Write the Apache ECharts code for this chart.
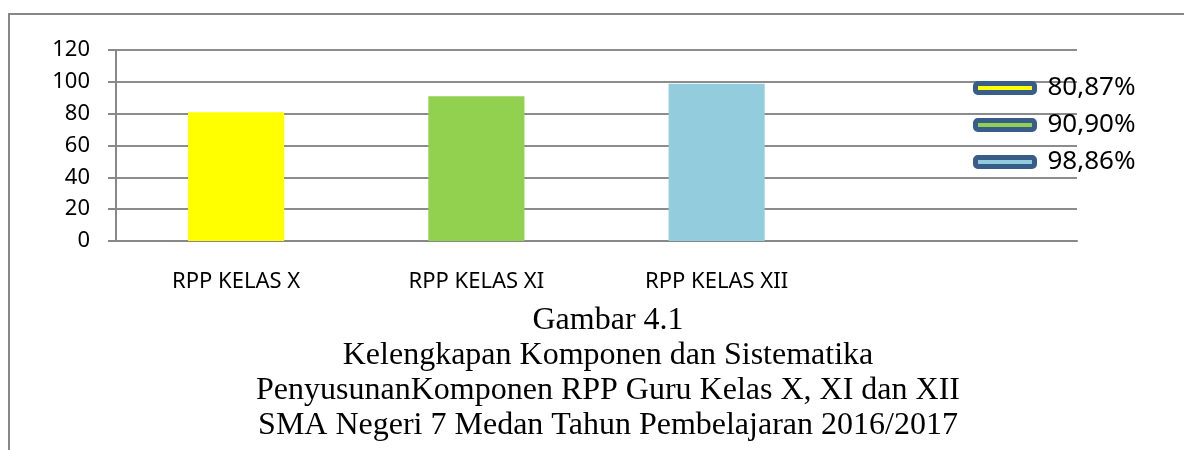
<!DOCTYPE html>
<html>
<head>
<meta charset="utf-8">
<title>Gambar 4.1</title>
<script src="https://cdn.jsdelivr.net/npm/echarts@6/dist/echarts.min.js"></script>
<style>
  html, body { margin: 0; padding: 0; background: #fff; }
  #chart { width: 1184px; height: 450px; }
</style>
</head>
<body>
<div id="chart"></div>
<script>
// data
var categories = ['RPP KELAS X', 'RPP KELAS XI', 'RPP KELAS XII', ''];
var legendNames = ['80,87%', '90,90%', '98,86%'];
var values = [80.87, 90.90, 98.86];
var barColors = ['#ffff00', '#92d050', '#93cddd'];
var yMin = 0, yMax = 120, yStep = 20;

var captionLines = [
  'Gambar 4.1',
  'Kelengkapan Komponen dan Sistematika',
  'PenyusunanKomponen RPP Guru Kelas X, XI dan XII',
  'SMA Negeri 7 Medan Tahun Pembelajaran 2016/2017'
];

var chart = echarts.init(document.getElementById('chart'));

var series = values.map(function (v, i) {
  return {
    name: legendNames[i],
    type: 'bar',
    stack: 'all',
    barWidth: '40%',
    itemStyle: { color: barColors[i] },
    data: categories.map(function (c, j) { return j === i ? v : '-'; })
  };
});

var option = {
  animation: false,
  backgroundColor: '#fff',
  title: {
    text: captionLines.join('\n'),
    left: 603, top: 298, textAlign: 'center',
    textStyle: { fontFamily: 'Liberation Serif', fontSize: 32, fontWeight: 'normal', color: '#000', lineHeight: 35 }
  },
  legend: {
    orient: 'vertical',
    left: 968, top: 70,
    itemWidth: 59, itemHeight: 9, itemGap: 11,
    icon: 'roundRect',
    itemStyle: { borderColor: '#385d8a', borderWidth: 5 },
    textStyle: { fontFamily: 'Noto Sans', fontSize: 26, color: '#000', padding: [0, 0, 0, 8] },
    data: legendNames
  },
  grid: { left: 116, right: 107, top: 50, bottom: 209 },
  xAxis: {
    type: 'category',
    data: categories,
    axisLine: { lineStyle: { color: '#888', width: 2 } },
    axisTick: { show: false },
    axisLabel: { fontFamily: 'Noto Sans', fontSize: 22, color: '#000', margin: 30 }
  },
  yAxis: {
    type: 'value',
    min: yMin, max: yMax, interval: yStep,
    axisLine: { show: true, lineStyle: { color: '#888', width: 2 } },
    axisTick: { show: true, length: 8, lineStyle: { color: '#888', width: 2 } },
    splitLine: { lineStyle: { color: '#8c8c8c', width: 2 } },
    axisLabel: { fontFamily: 'Noto Sans', fontSize: 22, color: '#000', margin: 26 }
  },
  graphic: [
    {
      type: 'polyline',
      shape: { points: [[9, 450], [9, 14], [1184, 14]] },
      style: { stroke: '#878787', lineWidth: 2, fill: null }
    }
  ],
  series: series
};

chart.setOption(option);
</script>
</body>
</html>
